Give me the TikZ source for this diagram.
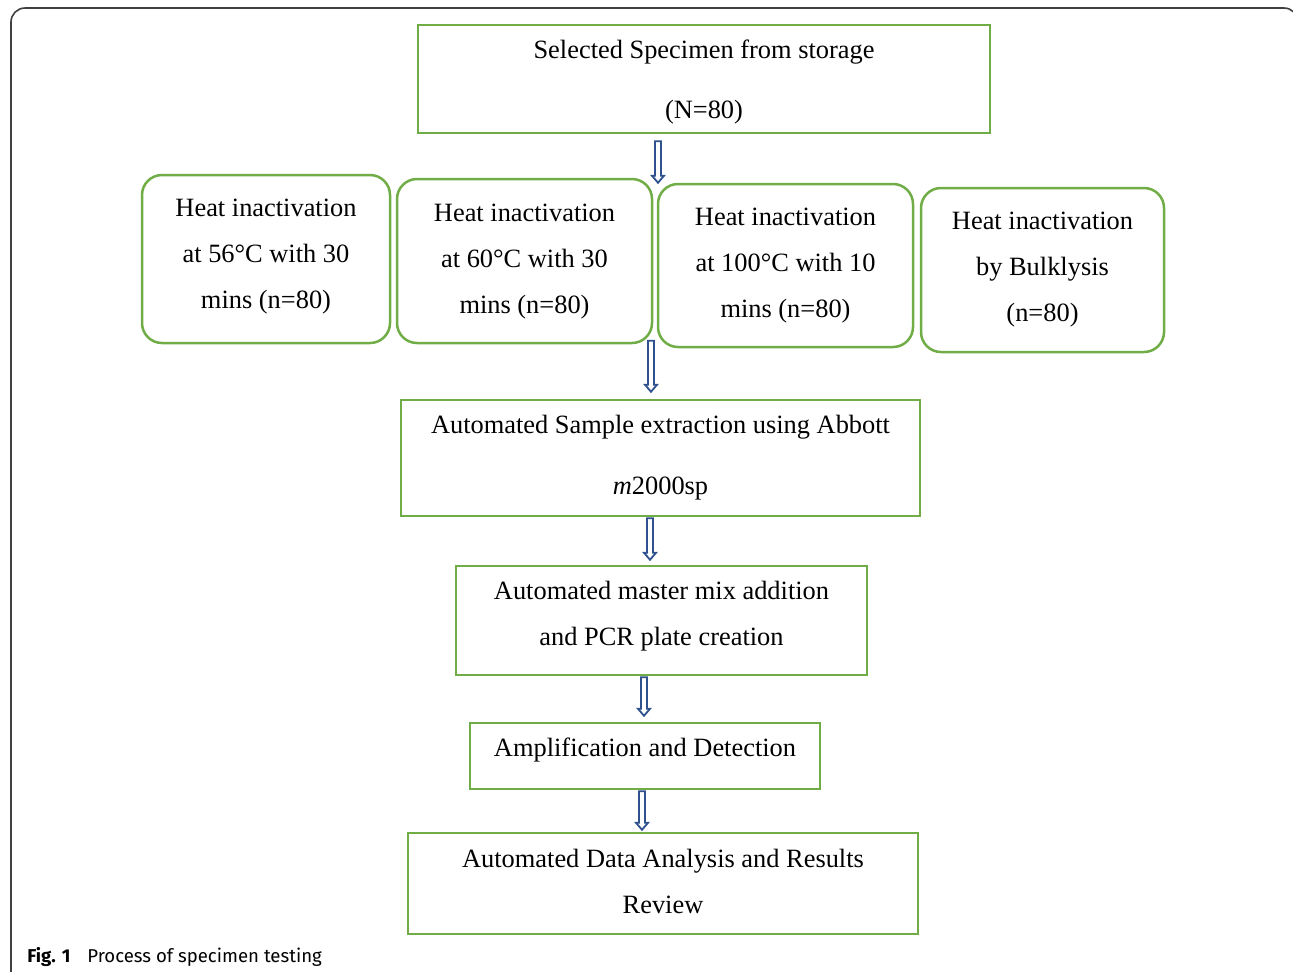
\documentclass[tikz,border=0pt]{standalone}
\usepackage{fontspec}
\setmainfont{Liberation Serif}
\newfontfamily\capfont{Fira Sans}
\usetikzlibrary{calc}
\definecolor{boxgreen}{HTML}{70AD47}
\definecolor{arrowblue}{HTML}{2F528F}
\tikzset{
  box/.style={draw=boxgreen, line width=1.25pt, inner sep=0pt, align=center,
    font=\fontsize{13.2}{23}\selectfont},
  heatbox/.style={box, rounded corners=10pt, minimum width=127.5pt, minimum height=82pt, text depth=3pt},
  blockarr/.style={draw=arrowblue, line width=0.9pt, fill=white, line join=miter}
}
\newcommand\flowarrow[2]{\draw[blockarr] let \p1=(#1), \p2=(#2) in
  (\x1-1.5pt,\y1) -- (\x1-1.5pt,\y2+3.5pt) -- (\x1-3pt,\y2+3.5pt) -- (\x1,\y2)
  -- (\x1+3pt,\y2+3.5pt) -- (\x1+1.5pt,\y2+3.5pt) -- (\x1+1.5pt,\y1) -- cycle;}
\begin{document}
\begin{tikzpicture}[x=0.5pt,y=-0.5pt]
\clip (0,0) rectangle (1293,971);
\draw[black!75, line width=0.8pt, rounded corners=7pt] (11,1000) -- (11,8) -- (1298,8) -- (1298,1000);

\node[box, minimum width=286pt, minimum height=54pt, text depth=0pt] (top) at (704,79) {Selected Specimen from storage\\[7pt](N=80)};
\node[heatbox, minimum width=124pt, minimum height=84pt, text depth=5pt] (h1) at (266,259) {Heat inactivation\\at 56°C with 30\\mins (n=80)};
\node[heatbox, text depth=2pt] (h2) at (524.5,261) {Heat inactivation\\at 60°C with 30\\mins (n=80)};
\node[heatbox, minimum height=81.5pt] (h3) at (785.5,265.5) {Heat inactivation\\at 100°C with 10\\mins (n=80)};
\node[heatbox, minimum width=121.5pt] (h4) at (1042.5,270) {Heat inactivation\\by Bulklysis\\(n=80)};
\node[box, minimum width=259.5pt, minimum height=58pt, text depth=3pt] (ext) at (660.5,458) {Automated Sample extraction using Abbott\\[7.5pt]\textit{m}2000sp};
\node[box, minimum width=205.5pt, minimum height=54.5pt, text depth=7pt] (mix) at (661.5,620.5) {Automated master mix addition\\and PCR plate creation};
\node[box, minimum width=175pt, minimum height=33pt, text depth=9pt] (amp) at (645,756) {Amplification and Detection};
\node[box, minimum width=255pt, minimum height=50.5pt, text depth=2pt] (data) at (663,883.5) {Automated Data Analysis and Results\\Review};

\flowarrow{$(top.south)+(-46,7)$}{h3.north}
\flowarrow{$(ext.north)+(-9.5,-58)$}{$(ext.north)+(0,-7)$}
\flowarrow{$(ext.south)+(-10.5,1)$}{$(mix.north)+(0,-5)$}
\flowarrow{$(mix.south)+(-17.5,1)$}{$(amp.north)+(0,-6)$}
\flowarrow{$(amp.south)+(-3,1)$}{$(data.north)+(0,-2)$}

\node[anchor=base west, inner sep=0pt, font=\capfont\fontsize{9.3}{11}\selectfont] (cap) at (27,962) {\textbf{Fig. 1}\hspace{8.5pt}Process of specimen testing};
\end{tikzpicture}
\end{document}
